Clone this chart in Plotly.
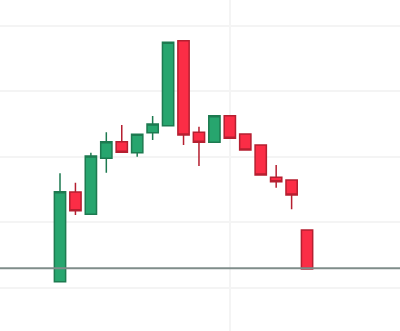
import plotly.graph_objects as go

x_idx = list(range(17))
opens  = [100.96, 114.63, 111.23, 119.77, 122.30, 120.63, 123.67, 124.74, 137.70, 123.73, 122.21, 126.26, 123.48, 121.80, 116.88, 116.46, 108.84]
highs  = [117.48, 116.05, 120.63, 123.73, 124.85, 123.43, 126.22, 137.45, 137.70, 124.59, 126.26, 126.26, 123.48, 121.80, 118.75, 116.46, 108.84]
lows   = [100.96, 111.13, 111.23, 117.58, 120.58, 120.02, 122.56, 124.74, 121.80, 118.60, 122.21, 122.82, 121.04, 117.23, 115.29, 112.00, 102.90]
closes = [114.68, 111.78, 120.12, 122.30, 120.69, 123.43, 125.00, 137.45, 123.32, 122.21, 126.26, 122.82, 121.04, 117.23, 116.20, 114.18, 102.90]
level_price = 103.0
grid_y = [100, 110, 120, 130, 140]
grid_x = [11]

fig = go.Figure(go.Candlestick(
    x=x_idx, open=opens, high=highs, low=lows, close=closes,
    increasing=dict(fillcolor="#27a56e", line=dict(color="#1d7a50", width=1.5)),
    decreasing=dict(fillcolor="#fb2d46", line=dict(color="#b51f30", width=1.5)),
    whiskerwidth=0,
    showlegend=False,
))

fig.add_shape(type="line", xref="paper", x0=0, x1=1, yref="y", y0=level_price, y1=level_price,
              line=dict(color="#7f8d8a", width=2))

fig.update_layout(
    width=400, height=331,
    margin=dict(l=0, r=0, t=0, b=0),
    paper_bgcolor="white", plot_bgcolor="white",
    boxgap=0.27, boxgroupgap=0,
    xaxis=dict(range=[-3.886, 22.02], tickvals=grid_x, showticklabels=False, ticks="",
               showgrid=True, gridcolor="#f4f4f4", gridwidth=2, zeroline=False,
               showline=False, rangeslider=dict(visible=False)),
    yaxis=dict(range=[93.45, 143.9], tickvals=grid_y, showticklabels=False, ticks="",
               showgrid=True, gridcolor="#f4f4f4", gridwidth=2, zeroline=False, showline=False),
)

fig.write_html("out.html")
